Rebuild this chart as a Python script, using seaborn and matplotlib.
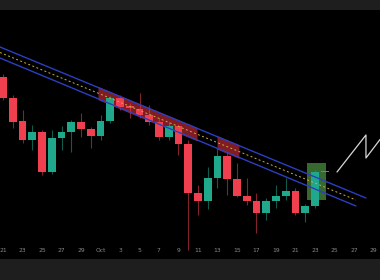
import numpy as np
import pandas as pd
import matplotlib
matplotlib.use("Agg")
import matplotlib.pyplot as plt
import seaborn as sns

# ---- data (price units) ----
days = list(range(34))
opens  = [183, 162, 139, 120, 128,  88, 122, 128, 138, 131, 124, 139, 162, 154, 151, 145, 138, 123,
          134, 116,  67,  59,  82, 104,  81,  64,  59,  47,  59,  64,  69,  47,  54,  88]
closes = [162, 138, 120, 128,  88, 122, 128, 138, 131, 124, 139, 162, 153, 152, 145, 138, 123, 134,
          116,  67,  59,  82, 104,  81,  64,  59,  47,  59,  64,  69,  47,  54,  88,  89]
highs  = [186, 165, 150, 135, 130, 130, 134, 140, 147, 133, 145, 164, 165, 157, 167, 155, 142, 138,
          136, 120,  75,  93, 111, 108,  97,  82,  67,  62,  75,  82,  72,  56,  90,  89]
lows   = [160, 132, 117, 110,  85,  86, 110, 108, 123, 112, 120, 137, 150, 142, 142, 135, 120, 120,
          105,  10,  45,  51,  72,  65,  63,  55,  27,  40,  52,  60,  45,  38,  52,  88]

tick_days   = [0, 2, 4, 6, 8, 10, 12, 14, 16, 18, 20, 22, 24, 26, 28, 30, 32, 34, 36, 38]
tick_labels = ["21", "23", "25", "27", "29", "Oct", "3", "5", "7", "9", "11", "13", "15", "17",
               "19", "21", "23", "25", "27", "29"]

upper_x = [-0.31, 37.23]; upper_y = [213, 62]
lower_x = [-0.31, 36.2];  lower_y = [202, 54]
mid_x   = [-0.31, 36.2];  mid_y   = [207.5, 60]
red_zones = [(9.74, 19.9), (21.95, 24.2)]
box_x = (31.18, 33.13); box_y = (60, 97)
zig_x = [34.26, 37.23, 37.23, 38.87]
zig_y = [88, 125, 102, 123]

RED = "#f0404f"
GREEN = "#1fa88c"

sns.set_theme(style="dark")
fig = plt.figure(figsize=(3.8, 2.8), dpi=100, facecolor="#1e1e1e")
ax = fig.add_axes([0, 21 / 280, 1, 249 / 280])
ax.set_facecolor("black")

df = pd.DataFrame({"day": days, "open": opens, "close": closes, "high": highs, "low": lows})
df["color"] = np.where(df["close"] >= df["open"], GREEN, RED)

# red shaded channel segments
for a, b in red_zones:
    xs = np.linspace(a, b, 20)
    up = np.interp(xs, upper_x, upper_y)
    lo = np.interp(xs, lower_x, lower_y)
    ax.fill_between(xs, lo - 1, up + 1, color="#d8303c", alpha=0.6, lw=0, zorder=1)

# green box
ax.bar((box_x[0] + box_x[1]) / 2, box_y[1] - box_y[0], bottom=box_y[0],
       width=box_x[1] - box_x[0], color="#3d7436", alpha=0.9, lw=0, edgecolor="none", zorder=1)

# wicks
ax.vlines(df["day"], df["low"], df["high"], colors=df["color"], lw=0.8, alpha=0.55, zorder=2)
# bodies
bottoms = np.minimum(df["open"], df["close"])
heights = np.maximum(np.abs(df["close"] - df["open"]), 1.2)
ax.bar(df["day"], heights, bottom=bottoms, width=0.8, color=df["color"], lw=0,
       edgecolor="none", zorder=3)

# channel lines
sns.lineplot(x=upper_x, y=upper_y, ax=ax, color="#2b3fc0", lw=1.0, zorder=4)
sns.lineplot(x=lower_x, y=lower_y, ax=ax, color="#2b3fc0", lw=1.0, zorder=4)
sns.lineplot(x=mid_x, y=mid_y, ax=ax, color="#c9b040", lw=0.7, linestyle=(0, (2, 2.5)), zorder=4)

# zigzag
sns.lineplot(x=zig_x, y=zig_y, ax=ax, color="#d8d8d8", lw=0.9, sort=False, estimator=None,
             zorder=5)

ax.set_xlim(-0.31, 38.67)
ax.set_ylim(1, 250)
ax.set_xticks(tick_days)
ax.set_xticklabels(tick_labels)
ax.set_yticks([])
ax.tick_params(axis="x", length=0, pad=-8, labelsize=4.3, labelcolor="#8a8a8a")
ax.grid(False)
for s in ax.spines.values():
    s.set_visible(False)
ax.set_xlabel("")
ax.set_ylabel("")

fig.savefig("out.png", dpi=100, facecolor=fig.get_facecolor())
